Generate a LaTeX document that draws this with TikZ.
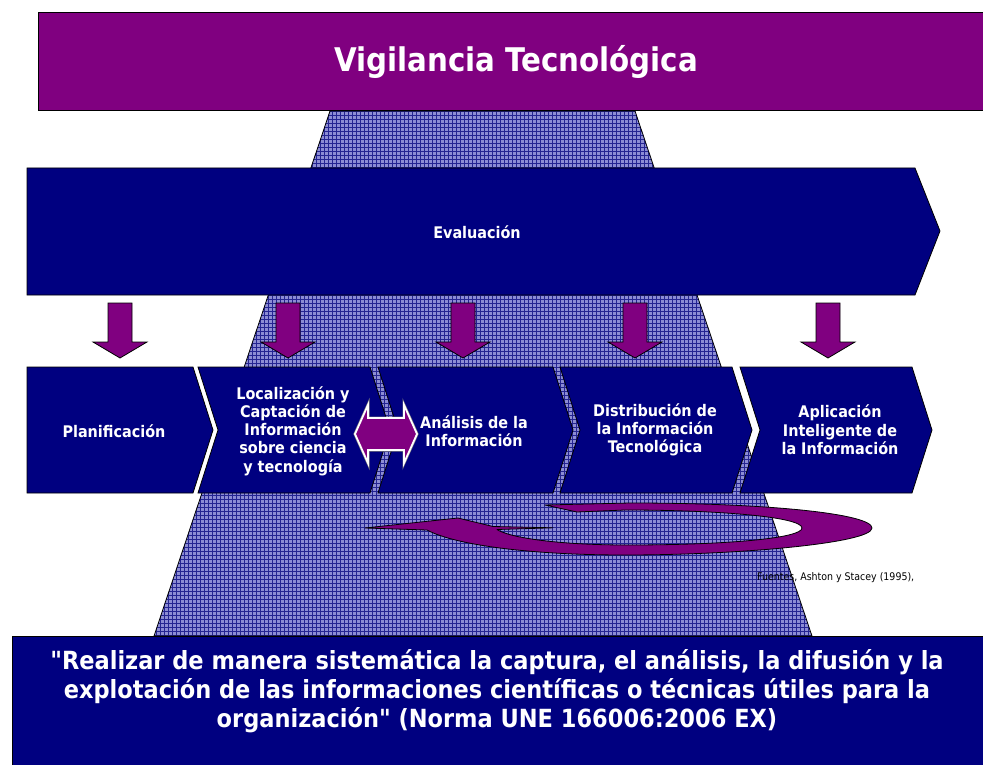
\documentclass[tikz,border=0pt]{standalone}
\usepackage{fontspec}
\setmainfont{DejaVu Sans}
\newfontfamily\condb{DejaVu Sans Condensed Bold}[Ligatures=TeXOff]
\newfontfamily\condr{DejaVu Sans Condensed}[Ligatures=TeXOff]
\definecolor{vpurple}{RGB}{128,0,128}
\definecolor{vnavy}{RGB}{0,0,128}
\definecolor{gridbg}{RGB}{140,140,212}
\definecolor{gridln}{RGB}{36,36,146}
\tikzset{
  shapeborder/.style={draw=black, line width=0.8pt},
  navyshape/.style={shapeborder, fill=vnavy},
  purpleshape/.style={shapeborder, fill=vpurple},
  gridline/.style={gridln, line width=0.6pt},
  chevtext/.style={text=white, font=\condb\fontsize{16}{18.3}\selectfont, align=center, inner sep=0pt},
}
\begin{document}
\begin{tikzpicture}[x=1pt,y=-1pt]
\clip (0,0) rectangle (983,765);
\fill[white] (0,0) rectangle (983,765);
% gridded trapezoid
\begin{scope}
  \clip (330,111) -- (635,111) -- (812,636) -- (154,636) -- cycle;
  \fill[gridbg] (150,105) rectangle (820,640);
  \foreach \i in {0,...,167} { \draw[gridline] (152+4*\i,105) -- (152+4*\i,640); }
  \foreach \j in {0,...,134} { \draw[gridline] (150,107+4*\j) -- (820,107+4*\j); }
\end{scope}
\draw[line width=0.8pt] (330,111) -- (635,111) -- (812,636) -- (154,636) -- cycle;
% title
\path[purpleshape] (38,12) rectangle (990,110);
\node[text=white, font=\condb\fontsize{32.6}{36}\selectfont, inner sep=0pt] (title) at (516,62) {Vigilancia Tecnológica};
% evaluation arrow
\path[navyshape] (27,168) -- (915,168) -- (940,231) -- (915,295) -- (27,295) -- cycle;
\node[chevtext] (eval) at (477,232) {Evaluación};
% down arrows
\foreach \cx in {120,288,463,635,828} {
  \path[purpleshape] (\cx-12,303) -- (\cx+12,303) -- (\cx+12,342) -- (\cx+27,342) -- (\cx,358) -- (\cx-27,342) -- (\cx-12,342) -- cycle;
}
% chevrons
\path[navyshape] (27,367) -- (193,367) -- (213,430) -- (193,493) -- (27,493) -- cycle;
\foreach \L/\R in {198/370, 378/553, 560/732, 740/912} {
  \path[navyshape] (\L,367) -- (\R,367) -- (\R+20,430) -- (\R,493) -- (\L,493) -- (\L+20,430) -- cycle;
}
\node[chevtext] (plan) at (114,431) {Planificación};
\node[chevtext] (loc) at (293,431) {Localización y\\Captación de\\Información\\sobre ciencia\\y tecnología};
\node[chevtext] (anal) at (474,431) {Análisis de la\\Información};
\node[chevtext] (dist) at (655,430) {Distribución de\\la Información\\Tecnológica};
\node[chevtext] (apl) at (840,430) {Aplicación\\Inteligente de\\la Información};
% double arrow
\path[draw=gray, line width=3pt, line join=miter] (355,434) -- (368,405) -- (368,418) -- (404,418) -- (404,405) -- (417,434) -- (404,463) -- (404,450) -- (368,450) -- (368,463) -- cycle;
\path[draw=white, line width=1.8pt, fill=vpurple, line join=miter] (355,434) -- (368,405) -- (368,418) -- (404,418) -- (404,405) -- (417,434) -- (404,463) -- (404,450) -- (368,450) -- (368,463) -- cycle;
% swirl arrow
\path[purpleshape, line join=round] (545,505) -- (630,503)
  .. controls (770,503) and (872,514) .. (872,528)
  .. controls (872,543) and (740,555) .. (625,555)
  .. controls (530,555) and (455,545) .. (427,530)
  -- (365,528) -- (458,518)
  .. controls (470,521) and (483,524) .. (493,526.5)
  -- (553,527.8) -- (497,529.5)
  .. controls (510,538) and (560,545) .. (627,545)
  .. controls (730,545) and (802,538) .. (802,528)
  .. controls (802,517) and (720,510) .. (625,510)
  -- (577,512) -- cycle;
% source
\node[font=\condr\fontsize{10.5}{12}\selectfont, anchor=west, inner sep=0pt] (src) at (757,578) {Fuentes, Ashton y Stacey (1995),};
% definition box
\path[navyshape] (12,636) rectangle (990,770);
\node[text=white, font=\condb\fontsize{25}{29}\selectfont, align=center, inner sep=0pt] (def) at (497,691) {"Realizar de manera sistemática la captura, el análisis, la difusión y la\\explotación de las informaciones científicas o técnicas útiles para la\\organización" (Norma UNE 166006:2006 EX)};
\end{tikzpicture}
\end{document}
